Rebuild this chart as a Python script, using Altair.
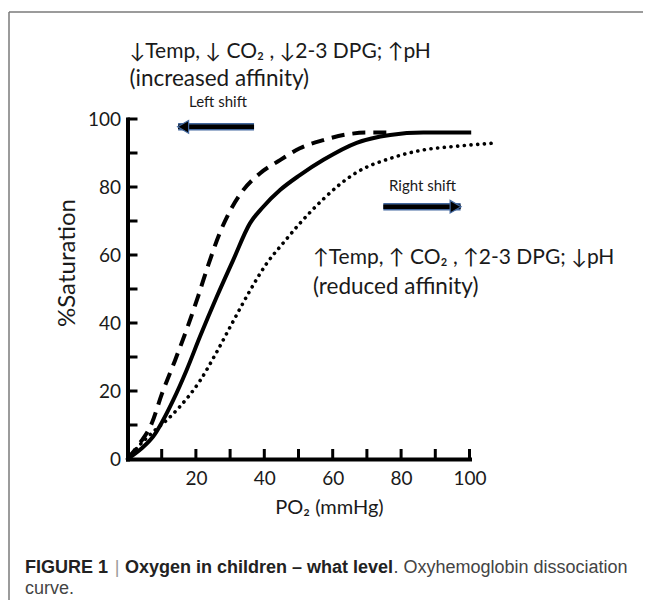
import altair as alt
import pandas as pd

# ---- data ----
solid_x = [0, 4, 7.5, 13.4, 17.3, 21.2, 26.1, 30.9, 35.8, 39.7, 44.6, 50.4, 57.3, 67, 76.8, 86.5, 100.5]
solid_y = [0, 3, 6.6, 17.4, 26.2, 36, 47.7, 58.5, 69.3, 74.2, 79.1, 83.5, 88.0, 93.0, 95.3, 96, 96]

dashed_x = [0, 3.5, 7.1, 10, 13.9, 17.8, 20.7, 23.6, 27, 30, 33.4, 38.7, 44.6, 50.4, 57.3, 65, 70, 75.8]
dashed_y = [0, 4.5, 10.5, 19, 29, 39.5, 48, 57, 66.5, 73, 78.5, 84, 87.9, 91.4, 93.8, 95.6, 96, 96]

dotted_x = [0, 3, 7.5, 11, 15.4, 21.2, 26.1, 30.9, 35.8, 40.7, 45.6, 50.4, 57.3, 62.1, 67, 76.8, 86.5, 96.3, 107]
dotted_y = [0, 3.5, 8, 11, 15.5, 23, 31.5, 40.5, 49.5, 57.5, 63.6, 69.3, 76.5, 80.8, 84.3, 88.4, 90.9, 92, 92.9]

x_tick_marks = [10, 20, 30, 40, 50, 60, 70, 80, 90, 100]
y_tick_marks = [10, 20, 30, 40, 50, 60, 70, 80, 90, 100]
x_tick_labels = [20, 40, 60, 80, 100]
y_tick_labels = [0, 20, 40, 60, 80, 100]

# shift arrows: tip / tail in PO2 units, level in %saturation
left_arrow = {"tip": 14.8, "tail": 37.0, "level": 97.7}
right_arrow = {"tip": 97.4, "tail": 74.8, "level": 74.2}

# ---- layout ----
W, H = 342, 340
FONT = "Lato"
BLUE = "#44699f"

xs = alt.Scale(domain=[0, 100], nice=False, zero=False)
ys = alt.Scale(domain=[0, 100], nice=False, zero=False)

X = alt.X("po2:Q", scale=xs, axis=alt.Axis(
    values=x_tick_labels, ticks=False, grid=False, title=None,
    domainColor="black", domainWidth=4, domainCap="square",
    labelFont=FONT, labelFontSize=19, labelColor="#1a1a1a", labelPadding=10,
    labelFlush=False))
Y = alt.Y("sat:Q", scale=ys, axis=alt.Axis(
    values=y_tick_labels, ticks=False, grid=False, title=None,
    domainColor="black", domainWidth=4, domainCap="square",
    labelFont=FONT, labelFontSize=19, labelColor="#1a1a1a", labelPadding=7,
    labelFlush=False))


def curve_df(xv, yv):
    return pd.DataFrame({"po2": xv, "sat": yv})


solid = alt.Chart(curve_df(solid_x, solid_y)).mark_line(
    interpolate="monotone", color="black", strokeWidth=4, clip=False
).encode(x=X, y=Y, order="po2:Q")

dashed = alt.Chart(curve_df(dashed_x, dashed_y)).mark_line(
    interpolate="monotone", color="black", strokeWidth=4, strokeDash=[13, 8], clip=False
).encode(x=X, y=Y, order="po2:Q")

dotted = alt.Chart(curve_df(dotted_x, dotted_y)).mark_line(
    interpolate="monotone", color="black", strokeWidth=3.6, strokeDash=[0.1, 6.6],
    strokeCap="round", clip=False
).encode(x=X, y=Y, order="po2:Q")

xticks = alt.Chart(pd.DataFrame({"po2": x_tick_marks})).mark_rule(
    color="black", strokeWidth=3
).encode(x=X, y=alt.value(H), y2=alt.value(H - 10))

yticks = alt.Chart(pd.DataFrame({"sat": y_tick_marks})).mark_rule(
    color="black", strokeWidth=3
).encode(y=Y, x=alt.value(0), x2=alt.value(10))


def arrow(a, shape, offset):
    df = pd.DataFrame({"po2": [a["tip"]], "po2_end": [a["tail"]], "sat": [a["level"]]})
    base = alt.Chart(df)
    outline = base.mark_rule(color=BLUE, strokeWidth=7.5, strokeCap="butt").encode(
        x=X, x2="po2_end:Q", y=Y)
    inner = base.mark_rule(color="black", strokeWidth=4.5, strokeCap="butt").encode(
        x=X, x2="po2_end:Q", y=Y)
    head = base.mark_point(shape=shape, filled=True, size=160, color="black",
                           stroke=BLUE, strokeWidth=1.2, opacity=1, xOffset=offset).encode(
        x=X, y=Y)
    return [outline, inner, head]


def label(s, x, y, size, weight="normal", align="left", color="#1a1a1a",
          font=FONT, angle=0):
    return alt.Chart(alt.Data(values=[{}])).mark_text(
        align=align, baseline="middle", fontSize=size, fontWeight=weight,
        color=color, font=font, angle=angle
    ).encode(x=alt.value(x), y=alt.value(y), text=alt.value(s))


border_top = alt.Chart(alt.Data(values=[{}])).mark_rule(color="#7a7a7a", strokeWidth=1.5).encode(
    x=alt.value(-118.5), x2=alt.value(540), y=alt.value(-107))
border_left = alt.Chart(alt.Data(values=[{}])).mark_rule(color="#7a7a7a", strokeWidth=1.5).encode(
    x=alt.value(-118.5), y=alt.value(-107), y2=alt.value(500))

CAP1, CAP2 = 449, 470
texts = [
    label("↓Temp, ↓ CO₂ , ↓2-3 DPG; ↑pH", 2, -67, 21),
    label("(increased affinity)", 2, -40.5, 22.5),
    label("Left shift", 90.5, -17, 15, align="center"),
    label("Right shift", 295, 67, 15, align="center"),
    label("↑Temp, ↑ CO₂ , ↑2-3 DPG; ↓pH", 185.5, 139, 21),
    label("(reduced affinity)", 185.5, 167.5, 22.5),
    label("PO₂ (mmHg)", 202, 389, 20, align="center"),
    label("%Saturation", -59.5, 144, 24, align="center", angle=270),
    label("FIGURE 1", -102.5, CAP1, 18, weight="bold", font="Liberation Sans", color="#222"),
    label("|", -10.5, CAP1, 18, font="Liberation Sans", color="#9a9a9a", align="center"),
    label("Oxygen in children – what level", -2.5, CAP1, 18, weight="bold",
          font="Liberation Sans", color="#222"),
    label(". Oxyhemoglobin dissociation", 266, CAP1, 18, font="Liberation Sans", color="#444"),
    label("curve.", -102.5, CAP2, 18, font="Liberation Sans", color="#444"),
]

layers = [border_top, border_left, solid, dashed, dotted, xticks, yticks]
layers += arrow(left_arrow, "triangle-left", 5)
layers += arrow(right_arrow, "triangle-right", -5)
layers += texts

chart = alt.layer(*layers).properties(
    width=W, height=H,
    padding={"left": 119.5, "top": 111, "right": 173.5, "bottom": 141},
    autosize=alt.AutoSizeParams(type="none"),
    background="white",
).configure_view(stroke=None)

chart.save("out.html", embed_options={"renderer": "svg", "actions": False})
